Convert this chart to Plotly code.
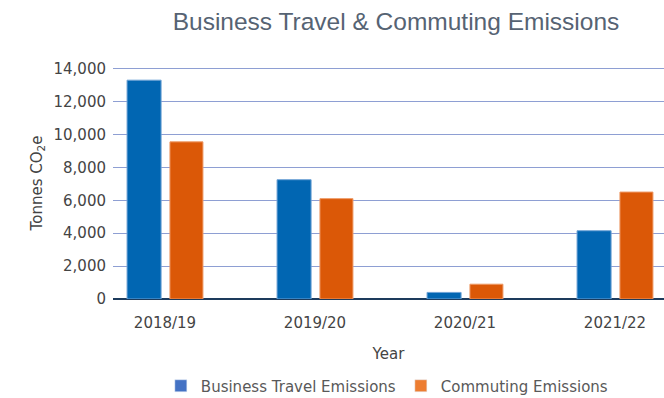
import plotly.graph_objects as go

years = ["2018/19", "2019/20", "2020/21", "2021/22"]
business_travel = [13300, 7250, 400, 4150]
commuting = [9550, 6100, 900, 6500]
y_ticks = [0, 2000, 4000, 6000, 8000, 10000, 12000, 14000]
y_tick_labels = ["0", "2,000", "4,000", "6,000", "8,000", "10,000", "12,000", "14,000"]

BLUE_BAR = "#0166b2"
ORANGE_BAR = "#db5807"
BLUE_LEG = "#4472c4"
ORANGE_LEG = "#ed7d31"
TXT = "#595959"
FONT = "DejaVu Sans, Liberation Sans, Arial, sans-serif"

fig = go.Figure()
fig.add_trace(go.Bar(x=years, y=business_travel, name="Business Travel Emissions",
                     marker=dict(color=BLUE_BAR, line=dict(color="#6fa3d6", width=1)),
                     width=0.227, offset=-0.253, showlegend=False))
fig.add_trace(go.Bar(x=years, y=commuting, name="Commuting Emissions",
                     marker=dict(color=ORANGE_BAR, line=dict(color="#ee9a66", width=1)),
                     width=0.22, offset=0.033, showlegend=False))
# legend-only entries (legend swatches use different shades in the original)
fig.add_trace(go.Bar(x=[None], y=[None], name="Business Travel Emissions",
                     marker_color=BLUE_LEG, showlegend=True))
fig.add_trace(go.Bar(x=[None], y=[None], name="Commuting Emissions",
                     marker_color=ORANGE_LEG, showlegend=True))

fig.update_layout(
    width=664, height=398,
    margin=dict(l=113, r=0, t=67, b=99, autoexpand=False),
    paper_bgcolor="white", plot_bgcolor="white",
    font=dict(family=FONT, color=TXT, size=15),
    title=dict(text="Business Travel & Commuting Emissions",
               x=396/664, xanchor="center", y=1-21/398, yanchor="middle",
               font=dict(family="Liberation Sans, Arial, sans-serif", size=24.5, color="#566373")),
    barmode="overlay",
    legend=dict(orientation="h", x=330/664, xanchor="center",
                y=-(386-299)/232, yanchor="middle",
                font=dict(size=15, color=TXT), itemwidth=30,
                tracegroupgap=0),
    xaxis=dict(type="category", range=[-0.3467, 3.3267], showgrid=False, automargin=False,
               ticks="", showline=False, ticklabelstandoff=13,
               tickfont=dict(size=15, color="#444"),
               title=dict(text="Year", font=dict(size=15, color="#444"), standoff=17)),
    yaxis=dict(range=[0, 14100], tickvals=y_ticks, ticktext=y_tick_labels, automargin=False,
               showgrid=True, gridcolor="#8e9fd3", gridwidth=1,
               zeroline=True, zerolinecolor="#1d3b5c", zerolinewidth=2,
               ticks="", ticklabelstandoff=6,
               tickfont=dict(size=15, color="#444"),
               title=dict(text="Tonnes CO<sub>2</sub>e", font=dict(size=15, color="#444"),
                          standoff=7)),
)

fig.write_html("out.html")
